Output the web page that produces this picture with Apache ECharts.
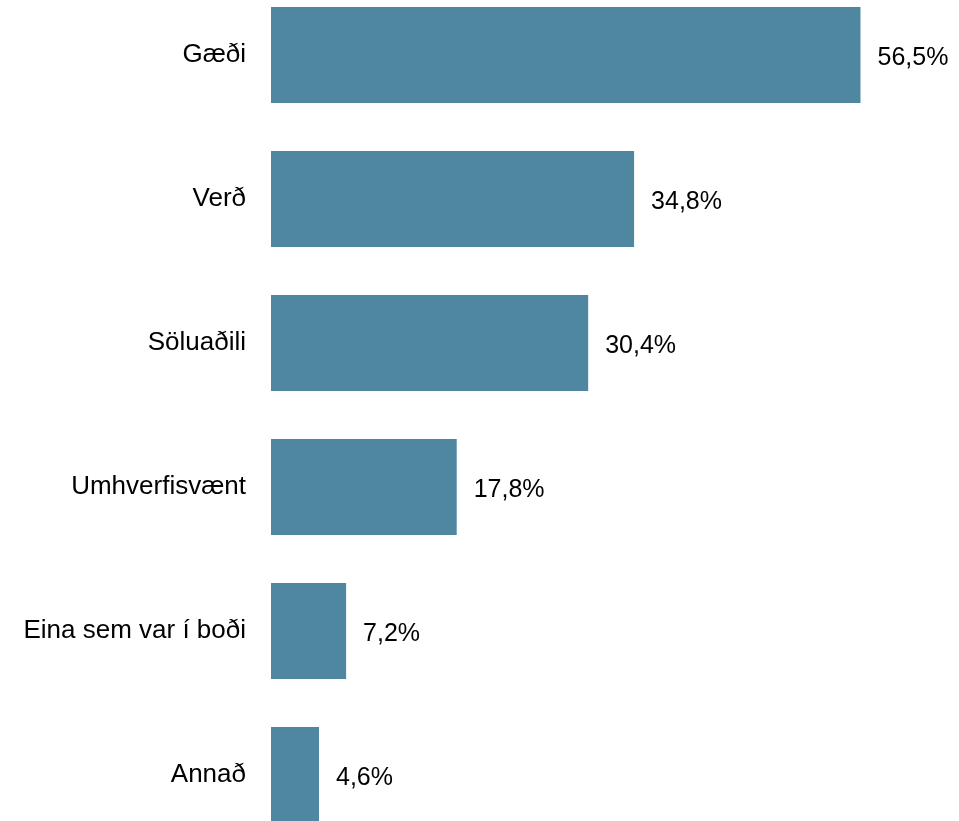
<!DOCTYPE html>
<html>
<head>
<meta charset="utf-8">
<script src="https://cdn.jsdelivr.net/npm/echarts@6/dist/echarts.min.js"></script>
<style>
html,body{margin:0;padding:0;background:#fff;overflow:hidden;width:959px;height:821px;}
#chart{position:absolute;left:0;top:-17px;width:959px;height:864px;}
</style>
</head>
<body>
<div id="chart"></div>
<script>
var categories = ["Gæði", "Verð", "Söluaðili", "Umhverfisvænt", "Eina sem var í boði", "Annað"];
var values = [56.5, 34.8, 30.4, 17.8, 7.2, 4.6];

var chart = echarts.init(document.getElementById('chart'), null, {renderer: 'canvas'});
chart.setOption({
  animation: false,
  backgroundColor: '#ffffff',
  grid: {left: 271, right: 62, top: 0, bottom: 0, containLabel: false},
  xAxis: {
    type: 'value', min: 0, max: 60,
    show: false
  },
  yAxis: {
    type: 'category',
    data: categories,
    inverse: true,
    axisLine: {show: false},
    axisTick: {show: false},
    axisLabel: {
      margin: 25,
      color: '#000000',
      fontFamily: 'Liberation Sans, Arial, sans-serif',
      fontSize: 26
    }
  },
  series: [{
    type: 'bar',
    data: values,
    barCategoryGap: '33.3%',
    itemStyle: {color: '#4f87a0'},
    label: {
      show: true,
      position: 'right',
      distance: 17,
      offset: [0, 3],
      color: '#000000',
      fontFamily: 'Liberation Sans, Arial, sans-serif',
      fontSize: 25,
      formatter: function (p) { return p.value.toFixed(1).replace('.', ',') + '%'; }
    }
  }]
});
</script>
</body>
</html>
